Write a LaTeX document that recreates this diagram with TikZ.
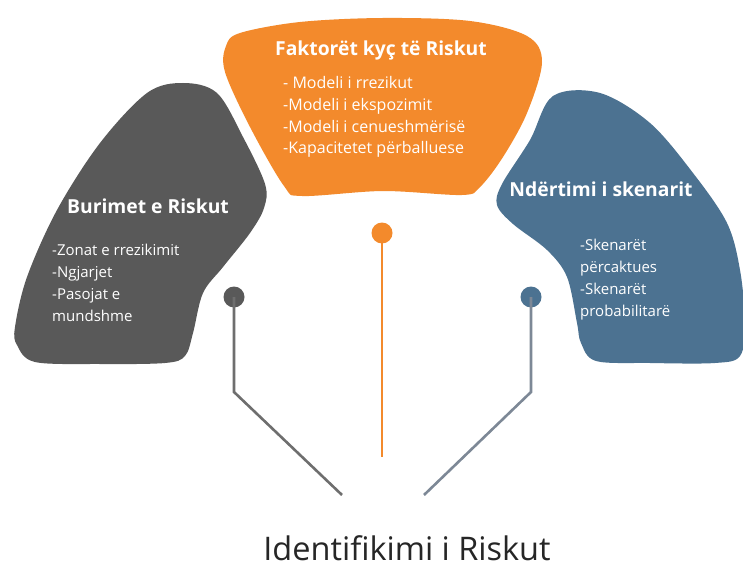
\documentclass[tikz,border=0pt]{standalone}
\usepackage{fontspec}
\setmainfont{Open Sans}
\definecolor{orangeC}{HTML}{F38A2C}
\definecolor{grayC}{HTML}{595959}
\definecolor{blueC}{HTML}{4C7291}
\definecolor{lineG}{HTML}{6E6E6E}
\definecolor{lineB}{HTML}{7D8896}
\begin{document}
\begin{tikzpicture}[x=1pt,y=-1pt,
  head/.style={text=white,font=\fontsize{19.3}{22}\selectfont\bfseries,inner sep=0pt},
  body/.style={text=white,font=\fontsize{15}{21.7}\selectfont,align=left,inner sep=0pt,anchor=base west},
  bigbody/.style={body,font=\fontsize{16}{21.7}\selectfont},
  dot/.style={circle,inner sep=0pt,minimum size=21pt},
  conn/.style={line width=2.6pt}]
\useasboundingbox[fill=white] (0,0) rectangle (743,569);
% shapes
\fill[orangeC] plot[smooth cycle,tension=0.55] coordinates {(240,33) (300,22) (383,18) (470,21) (527,36) (542,62) (527,113) (503,157) (480,187) (462,195) (383,191) (302,196) (284,186) (250,127) (225,72) (226,46)};
\fill[grayC] plot[smooth cycle,tension=0.55] coordinates {(147,93) (183,83) (217,93) (243,137) (265,184) (264,208) (250,233) (223,267) (203,293) (193,333) (185,356) (165,363) (100,364) (35,362) (17,345) (15,327) (27,277) (57,210) (100,143)};
\fill[blueC] plot[smooth cycle,tension=0.55] coordinates {(553,96) (600,93) (650,123) (693,173) (727,223) (740,270) (745,323) (740,356) (715,363) (650,363) (596,361) (581,343) (577,323) (567,277) (547,250) (513,224) (497,205) (502,184) (530,140)};
% texts (base anchor = baseline of the last line)
\node[head] (oh) at (381,50) {Faktorët kyç të Riskut};
\node[bigbody] (ob) at (283,154) {- Modeli i rrezikut\\-Modeli i ekspozimit\\-Modeli i cenueshmërisë\\-Kapacitetet përballuese};
\node[head] (gh) at (148,206) {Burimet e Riskut};
\node[body] (gb) at (52,321) {-Zonat e rrezikimit\\-Ngjarjet\\-Pasojat e\\mundshme};
\node[head] (bh) at (601,189) {Ndërtimi i skenarit};
\node[body] (bb) at (580,316) {-Skenarët\\përcaktues\\-Skenarët\\probabilitarë};
\node[font=\fontsize{32.5}{36}\selectfont,text=black!85,inner sep=0pt,anchor=base] (title) at (407,560) {Identifikimi i Riskut};
% dots and connectors
\node[dot,fill=orangeC] (od) at (382,233) {};
\node[dot,fill=grayC] (gd) at (234,297) {};
\node[dot,fill=blueC] (bd) at (531,297) {};
\coordinate (oend) at (382,457);
\coordinate (gbend) at (234,392);
\coordinate (gend) at (342,495);
\coordinate (bbend) at (531,392);
\coordinate (bend) at (424,495);
\draw[conn,orangeC] (od.center) -- (oend);
\draw[conn,lineG] (gd.center) -- (gbend) -- (gend);
\draw[conn,lineB] (bd.center) -- (bbend) -- (bend);
\end{tikzpicture}
\end{document}
